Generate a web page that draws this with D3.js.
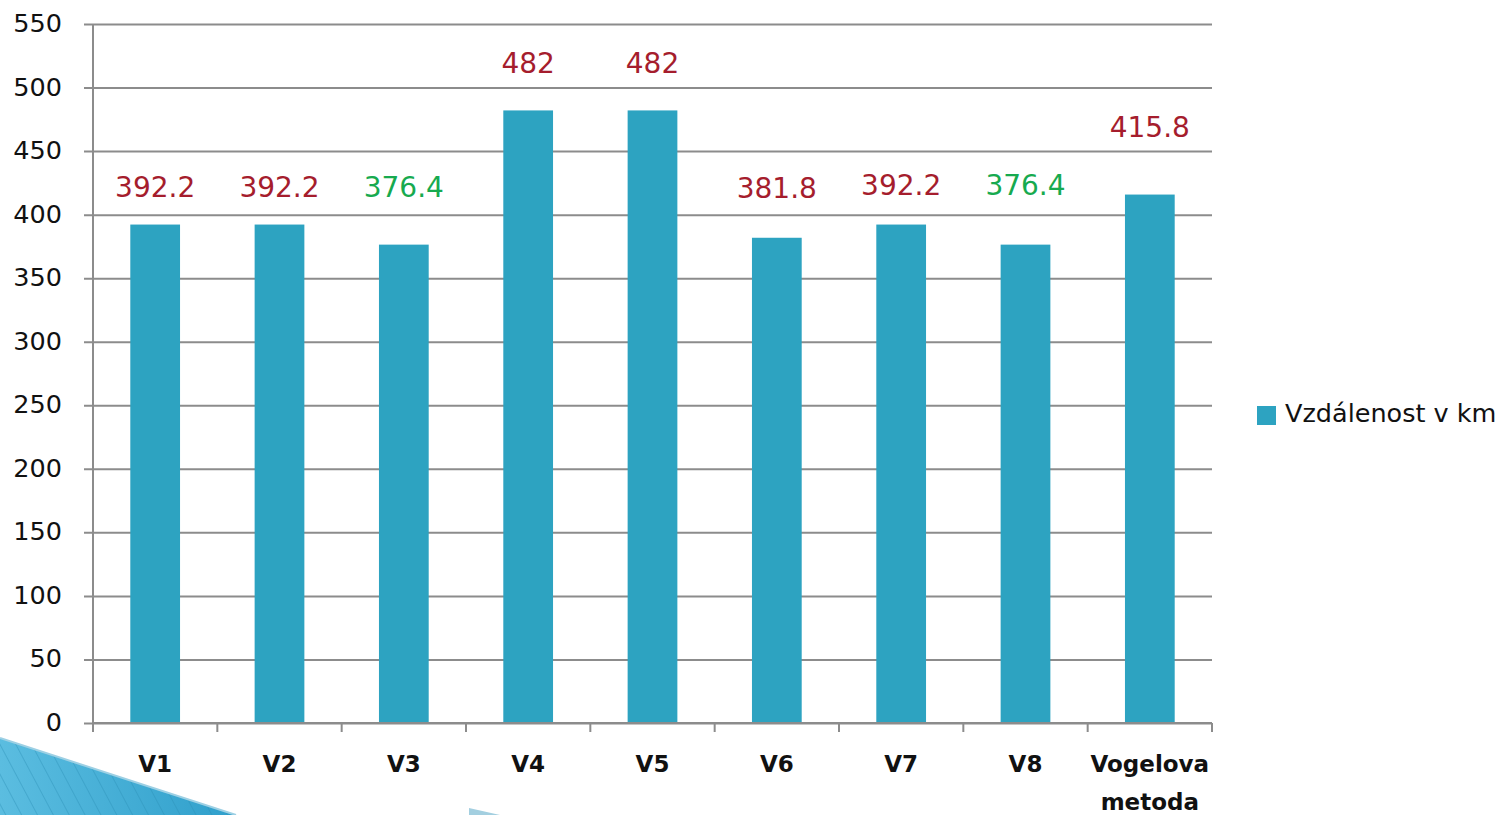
<!DOCTYPE html>
<html>
<head>
<meta charset="utf-8">
<script src="https://cdn.jsdelivr.net/npm/d3@7"></script>
<style>
  html, body { margin: 0; padding: 0; background: #fff; }
  svg { display: block; }
</style>
</head>
<body>
<script>
const categories = ["V1", "V2", "V3", "V4", "V5", "V6", "V7", "V8", "Vogelova metoda"];
const distances = [392.2, 392.2, 376.4, 482, 482, 381.8, 392.2, 376.4, 415.8];
const labelLevels = [422, 422, 422, 519, 519, 421, 423, 423, 469];
const labelBest = [false, false, true, false, false, false, false, true, false];
const yTicks = [0, 50, 100, 150, 200, 250, 300, 350, 400, 450, 500, 550];
const seriesName = "Vzdálenost v km";

(function () {
const W = 1508, H = 815;
const svg = d3.select("body").append("svg").attr("width", W).attr("height", H);

const pLeft = 93, pRight = 1212, pTop = 24, pBottom = 723;
const x = d3.scaleBand().domain(categories).range([pLeft, pRight]).paddingInner(0.6).paddingOuter(0.3);
const y = d3.scaleLinear().domain([0, 550]).range([pBottom, pTop]);

const barColor = "#2da3c1";
const gridColor = "#8c8c8c";
const font = "DejaVu Sans, Verdana, sans-serif";

// decoration (slide template)
const defs = svg.append("defs");
const pat = defs.append("pattern").attr("id", "stripes").attr("patternUnits", "userSpaceOnUse")
  .attr("width", 14).attr("height", 14).attr("patternTransform", "rotate(-28)");
pat.append("rect").attr("width", 14).attr("height", 14).attr("fill", "none");
pat.append("line").attr("x1", 0).attr("y1", 0).attr("x2", 0).attr("y2", 14)
  .attr("stroke", "#2a8fb5").attr("stroke-width", 1.5);
const grad = defs.append("linearGradient").attr("id", "fadeblue").attr("x1", 0).attr("x2", 1).attr("y1", 0).attr("y2", 0);
grad.append("stop").attr("offset", "0%").attr("stop-color", "#5bbde0");
grad.append("stop").attr("offset", "100%").attr("stop-color", "#2f9fcb");
svg.append("path").attr("d", "M0,738 L236,815 L0,815 Z").attr("fill", "url(#fadeblue)");
svg.append("path").attr("d", "M0,738 L236,815 L0,815 Z").attr("fill", "url(#stripes)").attr("opacity", 0.55);
svg.append("path").attr("d", "M0,738 L236,815").attr("stroke", "#9dd0e4").attr("stroke-width", 2).attr("fill", "none");
svg.append("path").attr("d", "M469,808 L500,815 L469,815 Z").attr("fill", "#a3cfe0");

// gridlines
svg.append("g").attr("transform", `translate(${pLeft - 9},0)`).call(
  d3.axisRight(y).tickValues(yTicks).tickSize(pRight - pLeft + 9).tickFormat(""))
  .call(g => g.select(".domain").remove())
  .call(g => g.selectAll(".tick line").attr("stroke", gridColor).attr("stroke-width", 2));

// y tick labels
svg.append("g").selectAll("text").data(yTicks).join("text")
  .attr("x", 62).attr("y", d => y(d) + 8)
  .attr("text-anchor", "end").attr("font-family", font).attr("font-size", 25.5).attr("fill", "#111")
  .text(d => d);

// y axis line
svg.append("line").attr("x1", pLeft).attr("x2", pLeft).attr("y1", pTop).attr("y2", pBottom + 9)
  .attr("stroke", gridColor).attr("stroke-width", 2);

// bars
svg.append("g").selectAll("rect").data(categories).join("rect")
  .attr("x", d => x(d)).attr("width", x.bandwidth())
  .attr("y", (d, i) => y(distances[i])).attr("height", (d, i) => y(0) - y(distances[i]))
  .attr("fill", barColor);

// x axis
const step = x.step();
const boundaries = categories.map((c, i) => pLeft + i * step).concat([pRight]);
svg.append("line").attr("x1", pLeft).attr("x2", pRight).attr("y1", pBottom).attr("y2", pBottom)
  .attr("stroke", gridColor).attr("stroke-width", 2);
svg.append("g").selectAll("line").data(boundaries).join("line")
  .attr("x1", d => d).attr("x2", d => d).attr("y1", pBottom).attr("y2", pBottom + 9)
  .attr("stroke", gridColor).attr("stroke-width", 2);

// x labels
const xl = svg.append("g").selectAll("text").data(categories).join("text")
  .attr("x", d => x(d) + x.bandwidth() / 2).attr("y", 772)
  .attr("text-anchor", "middle").attr("font-family", font).attr("font-weight", "bold")
  .attr("font-size", 23).attr("fill", "#111");
xl.each(function(d) {
  const words = d.split(" ");
  const t = d3.select(this);
  words.forEach((w, k) => t.append("tspan").attr("x", x(d) + x.bandwidth() / 2).attr("dy", k === 0 ? 0 : 38).text(w));
});

// value labels
svg.append("g").selectAll("text").data(categories).join("text")
  .attr("x", d => x(d) + x.bandwidth() / 2)
  .attr("y", (d, i) => y(labelLevels[i]) + 10)
  .attr("text-anchor", "middle").attr("font-family", font).attr("font-size", 28)
  .attr("fill", (d, i) => labelBest[i] ? "#17aa4f" : "#a51d2d")
  .text((d, i) => String(distances[i]));

// legend
svg.append("rect").attr("x", 1257).attr("y", 406).attr("width", 19).attr("height", 19).attr("fill", barColor);
svg.append("text").attr("x", 1285).attr("y", 422).attr("font-family", font).attr("font-size", 25.5)
  .attr("fill", "#111").text(seriesName);
})();
</script>
</body>
</html>
